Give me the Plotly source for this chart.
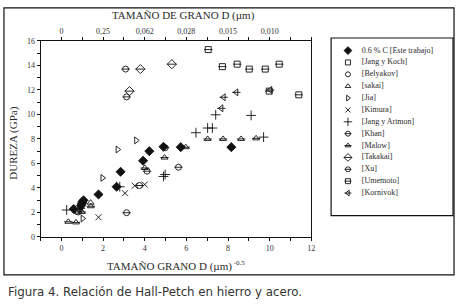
import plotly.graph_objects as go

W, H = 460, 308

# ---------------- data ----------------
names = ["0.6 % C [Este trabajo]", "[Jang y Koch]", "[Belyakov]", "[sakai]", "[Jia]",
         "[Kimura]", "[Jang y Artmon]", "[Khan]", "[Malow]", "[Takakai]", "[Xu]",
         "[Umemoto]", "[Kornivok]"]

este_x = [0.59, 0.94, 0.98, 1.06, 1.78, 2.65, 2.84, 3.92, 4.22, 4.90, 5.73, 8.16, 1.0]
este_y = [2.28, 2.56, 2.72, 2.99, 3.47, 4.10, 5.32, 6.22, 7.00, 7.36, 7.33, 7.33, 2.85]
koch_x = []
koch_y = []
bely_x = [0.73, 0.88]
bely_y = [2.10, 2.30]
sakai_x = [1.40, 0.95]
sakai_y = [2.80, 2.45]
jia_x = [1.02, 1.97, 2.70, 3.59]
jia_y = [1.51, 4.82, 7.14, 7.88]
kim_x = [1.78, 3.05, 3.52, 4.00, 0.92]
kim_y = [1.61, 3.57, 4.18, 4.28, 2.35]
art_x = [0.25, 2.80, 4.90, 4.98, 6.46, 7.02, 7.25, 7.41, 9.11, 9.71]
art_y = [2.20, 4.10, 4.94, 5.10, 8.51, 8.89, 8.89, 9.97, 9.92, 8.15]
khan_x = [3.08, 3.13]
khan_y = [13.70, 11.43]
malow_x = [0.33, 0.70, 0.98, 1.41, 4.00, 4.95, 5.97, 7.02, 7.76, 8.63, 9.35]
malow_y = [1.24, 1.19, 2.04, 2.51, 5.63, 6.48, 7.33, 8.00, 8.00, 8.00, 8.05]
tak_x = [3.27, 3.79, 5.30]
tak_y = [11.90, 13.70, 14.10]
xu_x = [0.81, 3.13, 3.75, 4.11, 4.98, 5.62]
xu_y = [2.04, 1.98, 4.20, 5.37, 7.28, 5.69]
ume_x = [7.05, 7.73, 8.44, 9.02, 9.79, 10.46, 11.40, 9.98]
ume_y = [15.29, 13.90, 14.10, 13.70, 13.70, 14.10, 11.60, 11.90]
korn_x = [7.68, 7.79, 8.40, 10.03]
korn_y = [10.50, 11.40, 11.80, 12.00]

series_x = [este_x, koch_x, bely_x, sakai_x, jia_x, kim_x, art_x, khan_x, malow_x,
            tak_x, xu_x, ume_x, korn_x]
series_y = [este_y, koch_y, bely_y, sakai_y, jia_y, kim_y, art_y, khan_y, malow_y,
            tak_y, xu_y, ume_y, korn_y]

# marker styles: (symbol, size, has horizontal bar)
styles = [
    ("diamond", 7, False),
    ("square-open", 6, False),
    ("circle-open", 6, False),
    ("triangle-up-open", 6, False),
    ("triangle-right-open", 6, False),
    ("x-thin-open", 6, False),
    ("cross-thin-open", 7, False),
    ("circle-open", 6, True),
    ("triangle-up-open", 6, True),
    ("diamond-open", 7, True),
    ("circle-open", 6, True),
    ("square-open", 6, True),
    ("triangle-left-open", 6, True),
]

bottom_ticks = [0, 2, 4, 6, 8, 10, 12]
top_tickvals = [0, 2, 4, 6, 8, 10]
top_ticktext = ["0", "0,25", "0,062", "0,028", "0,015", "0,010"]

SERIF = "Liberation Serif"
INK = "#111111"
TXT = "#2a2a2a"

def px_x(p):
    return p / W

def px_y(p):
    return 1 - p / H

fig = go.Figure()

# ---------------- main scatter ----------------
for (sx, sy, (sym, sz, bar)) in zip(series_x, series_y, styles):
    fig.add_trace(go.Scatter(
        x=sx, y=sy, mode="markers", showlegend=False, hoverinfo="skip",
        marker=dict(symbol=sym, size=sz, color=INK,
                    line=dict(color=INK, width=0.9))))
    if bar:
        fig.add_trace(go.Scatter(
            x=sx, y=sy, mode="markers", showlegend=False, hoverinfo="skip",
            marker=dict(symbol="line-ew-open", size=sz, color=INK,
                        line=dict(color=INK, width=0.9))))

# invisible copy so that the top (secondary) axis gets drawn
fig.add_trace(go.Scatter(x=este_x, y=este_y, xaxis="x2", mode="markers",
                         showlegend=False, hoverinfo="skip",
                         marker=dict(opacity=0, size=1)))

# ---------------- custom legend ----------------
leg_idx = list(range(len(names)))
for i, (sym, sz, bar) in zip(leg_idx, styles):
    fig.add_trace(go.Scatter(
        x=[17], y=[i], xaxis="x3", yaxis="y3", mode="markers", showlegend=False,
        hoverinfo="skip",
        marker=dict(symbol=sym, size=sz - 1, color=INK, line=dict(color=INK, width=0.9))))
    if bar:
        fig.add_trace(go.Scatter(
            x=[17], y=[i], xaxis="x3", yaxis="y3", mode="markers", showlegend=False,
            hoverinfo="skip",
            marker=dict(symbol="line-ew-open", size=sz - 1, color=INK,
                        line=dict(color=INK, width=0.9))))
fig.add_trace(go.Scatter(
    x=[31] * len(names), y=leg_idx, xaxis="x3", yaxis="y3", mode="text",
    text=names, textposition="middle right", showlegend=False, hoverinfo="skip",
    textfont=dict(family=SERIF, size=8, color=TXT)))

# ---------------- layout ----------------
x_dom = [px_x(41), px_x(314)]
y_dom = [px_y(240), px_y(38)]

axis_common = dict(showgrid=False, zeroline=False, showline=True, linecolor=INK,
                   linewidth=1, ticks="outside", ticklen=3, tickcolor=INK,
                   tickfont=dict(family=SERIF, size=8, color="#333333"))

fig.update_layout(
    width=W, height=H, margin=dict(l=0, r=0, t=0, b=0),
    paper_bgcolor="white", plot_bgcolor="white",
    xaxis=dict(domain=x_dom, range=[-1, 12], tickvals=bottom_ticks,
               minor=dict(dtick=1, ticks="outside", ticklen=3, tickcolor=INK),
               anchor="y", **axis_common),
    xaxis2=dict(domain=x_dom, range=[-1, 12], overlaying="x", side="top", anchor="y",
                tickvals=top_tickvals, ticktext=top_ticktext,
                minor=dict(tickvals=list(range(0, 13)), ticks="outside", ticklen=3,
                           tickcolor=INK),
                **axis_common),
    yaxis=dict(domain=y_dom, range=[0, 16], dtick=2, mirror=True, anchor="x",
               minor=dict(dtick=1, ticks="outside", ticklen=3, tickcolor=INK),
               **axis_common),
    xaxis3=dict(domain=[px_x(334), px_x(457)], range=[0, 123], visible=False,
                anchor="y3", fixedrange=True),
    yaxis3=dict(domain=[px_y(218), px_y(35)], range=[13.9, -1.06], visible=False,
                anchor="x3", fixedrange=True),
    shapes=[
        dict(type="rect", xref="paper", yref="paper", x0=px_x(4), x1=px_x(458),
             y0=px_y(279), y1=px_y(4), line=dict(color=INK, width=1.2)),
        dict(type="rect", xref="paper", yref="paper", x0=px_x(334), x1=px_x(457),
             y0=px_y(218), y1=px_y(35), line=dict(color=INK, width=1.2)),
    ],
    annotations=[
        dict(text="TAMAÑO DE GRANO D (µm)", x=px_x(185), y=px_y(12), xref="paper",
             yref="paper", xanchor="center", yanchor="middle", showarrow=False,
             font=dict(family=SERIF, size=11, color=TXT)),
        dict(text="TAMAÑO GRANO D (µm)<sup><span style='font-size:7px'> -0.5</span></sup>",
             x=px_x(178), y=px_y(270),
             xref="paper", yref="paper", xanchor="center", yanchor="middle",
             showarrow=False, font=dict(family=SERIF, size=11, color=TXT)),
        dict(text="DUREZA (GPa)", x=px_x(14), y=px_y(143), xref="paper", yref="paper",
             xanchor="center", yanchor="middle", textangle=-90, showarrow=False,
             font=dict(family=SERIF, size=11, color=TXT)),
        dict(text="Figura 4. Relación de Hall-Petch en hierro y acero.", x=px_x(6),
             y=px_y(297), xref="paper", yref="paper", xanchor="left", yanchor="middle",
             showarrow=False,
             font=dict(family="DejaVu Sans", size=11.8, color="#333333")),
    ],
)

fig.write_html("out.html", config={"displayModeBar": False, "staticPlot": True},
               post_script="document.body.style.margin='0';document.body.style.overflow='hidden';")
